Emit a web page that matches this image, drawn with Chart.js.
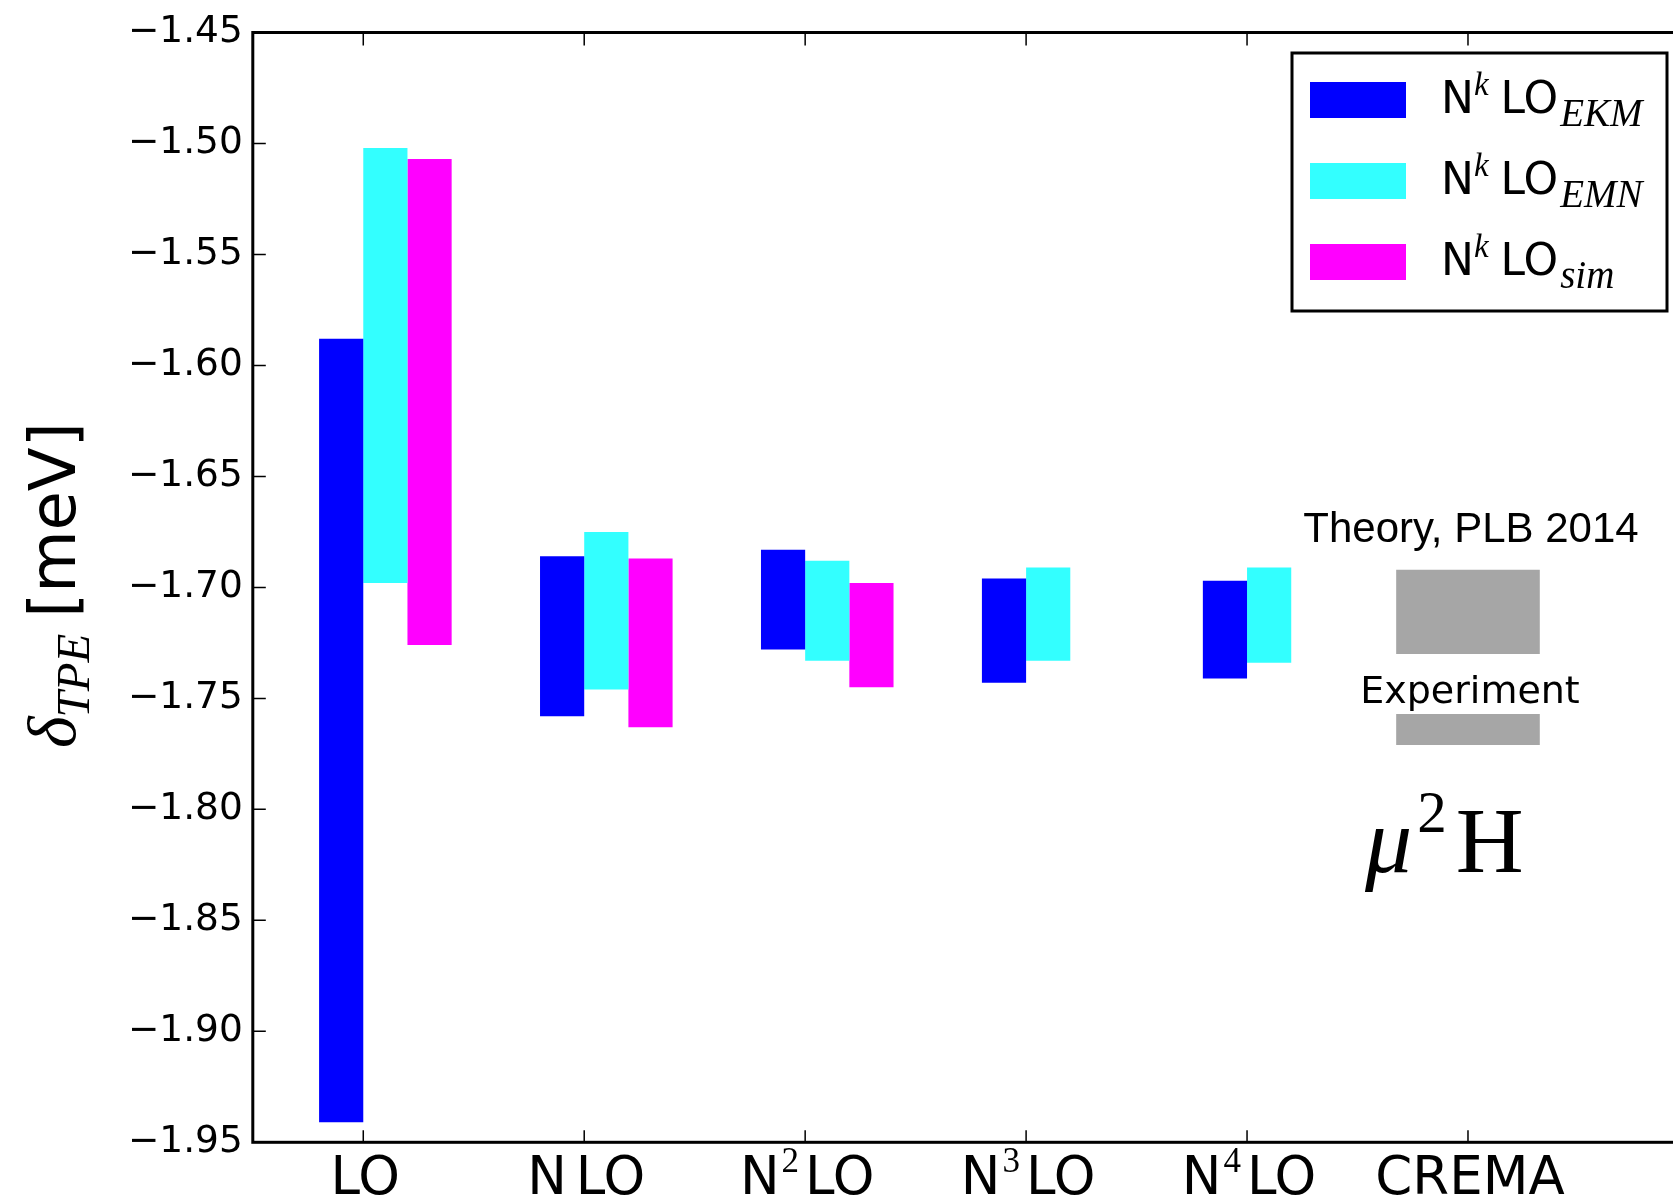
<!DOCTYPE html>
<html>
<head>
<meta charset="utf-8">
<title>Two-photon exchange in muonic deuterium</title>
<script src="https://cdn.jsdelivr.net/npm/chart.js@4.4.1/dist/chart.umd.min.js"></script>
<style>
  html, body { margin: 0; padding: 0; overflow: hidden; background: #ffffff; }
  #wrap { width: 1800px; height: 1201px; position: relative; }
</style>
</head>
<body>
<div id="wrap"><canvas id="chart"></canvas></div>
<script>
// Chiral orders (last slot is empty, it only extends the axis to the right)
const categories = ['LO', 'N LO', 'N^2LO', 'N^3LO', 'N^4LO', 'CREMA', ''];

// Uncertainty bands of delta_TPE in meV: upper and lower edge per order
const ekmHigh = [-1.588, -1.686, -1.683, -1.696, -1.697, null, null];
const ekmLow  = [-1.941, -1.758, -1.728, -1.743, -1.741, null, null];
const emnHigh = [-1.502, -1.675, -1.688, -1.691, -1.691, null, null];
const emnLow  = [-1.698, -1.746, -1.733, -1.733, -1.734, null, null];
const simHigh = [-1.507, -1.687, -1.698, null, null, null, null];
const simLow  = [-1.726, -1.763, -1.745, null, null, null, null];

// CREMA column: theory band (PLB 2014) and experimental band
const theoryBand = [-1.730, -1.692];
const experimentBand = [-1.771, -1.757];
const cremaIndex = 5;

// Legend subscripts and value axis ticks
const seriesNames = ['EKM', 'EMN', 'sim'];
const yTickValues = [-1.95, -1.90, -1.85, -1.80, -1.75, -1.70, -1.65, -1.60, -1.55, -1.50, -1.45];

const colors = ['rgb(0,0,255)', 'rgb(51,255,255)', 'rgb(255,0,255)'];
const greyBand = 'rgb(166,166,166)';

const SANS = '"DejaVu Sans", sans-serif';
const SERIF = '"Liberation Serif", "DejaVu Serif", serif';

function band(high, low) {
  return categories.map((_, i) => (high[i] == null ? null : [low[i], high[i]]));
}
function single(range) {
  return categories.map((_, i) => (i === cremaIndex ? range : null));
}

// Draw a sequence of text pieces with their own fonts and offsets
function runWidth(ctx, parts) {
  let w = 0;
  for (const p of parts) {
    ctx.font = p.font;
    w += (p.before || 0) + ctx.measureText(p.text).width;
  }
  return w;
}
function drawRun(ctx, parts, x, y) {
  let cx = x;
  for (const p of parts) {
    cx += p.before || 0;
    ctx.font = p.font;
    ctx.fillText(p.text, cx, y + (p.dy || 0));
    cx += ctx.measureText(p.text).width;
  }
  return cx - x;
}

// Category label "N^2LO" -> N, raised serif 2, LO
function labelParts(label) {
  const main = '53px ' + SANS;
  if (label.includes('^')) {
    const [base, rest] = label.split('^');
    return [
      { text: base, font: main },
      { text: rest[0], font: '35px ' + SERIF, dy: -22, before: 2 },
      { text: rest.slice(1), font: main, before: 6 }
    ];
  }
  if (label.includes(' ')) {
    const [a, b] = label.split(' ');
    return [{ text: a, font: main }, { text: b, font: main, before: 9 }];
  }
  return [{ text: label, font: main }];
}

const framePlugin = {
  id: 'frame',
  afterDraw(chart) {
    const { ctx, chartArea: ca } = chart;
    const xs = chart.scales.x, ys = chart.scales.y;
    ctx.save();
    ctx.strokeStyle = '#000';
    ctx.lineWidth = 1.5;
    ctx.beginPath();
    for (const v of yTickValues) {
      const y = ys.getPixelForValue(v);
      ctx.moveTo(ca.left, y); ctx.lineTo(ca.left + 13, y);
      ctx.moveTo(ca.right, y); ctx.lineTo(ca.right - 13, y);
    }
    categories.forEach((_, i) => {
      const x = xs.getPixelForValue(i);
      ctx.moveTo(x, ca.bottom); ctx.lineTo(x, ca.bottom - 12);
      ctx.moveTo(x, ca.top); ctx.lineTo(x, ca.top + 13);
    });
    ctx.stroke();
    ctx.lineWidth = 3;
    ctx.strokeRect(ca.left, ca.top, ca.right - ca.left, ca.bottom - ca.top);

    // category labels under the axis
    ctx.fillStyle = '#000';
    ctx.textAlign = 'left';
    ctx.textBaseline = 'alphabetic';
    categories.forEach((label, i) => {
      if (!label) return;
      const parts = labelParts(label);
      const x = xs.getPixelForValue(i);
      const w = runWidth(ctx, parts);
      drawRun(ctx, parts, x - w / 2 + 2, ca.bottom + 52);
    });

    // value axis title, rotated
    ctx.save();
    ctx.translate(75, 748);
    ctx.rotate(-Math.PI / 2);
    drawRun(ctx, [
      { text: '\u03B4', font: 'italic 68px ' + SERIF },
      { text: 'TPE', font: 'italic 47px ' + SERIF, dy: 14, before: -1 },
      { text: '[meV]', font: '64px ' + SANS, before: 16 }
    ], 0, 0);
    ctx.restore();

    // legend
    const lx = 1292, ly = 53, lw = 375, lh = 258;
    ctx.fillStyle = '#fff';
    ctx.fillRect(lx, ly, lw, lh);
    ctx.lineWidth = 3;
    ctx.strokeStyle = '#000';
    ctx.strokeRect(lx, ly, lw, lh);
    seriesNames.forEach((name, k) => {
      const rowY = 100 + 81 * k;
      ctx.fillStyle = colors[k];
      ctx.fillRect(1310, rowY - 18, 96, 36);
      ctx.fillStyle = '#000';
      drawRun(ctx, [
        { text: 'N', font: '44px ' + SANS },
        { text: 'k', font: 'italic 33px ' + SERIF, dy: -18, before: 0 },
        { text: 'LO', font: '44px ' + SANS, before: 12 },
        { text: name, font: 'italic 39px ' + SERIF, dy: 13, before: 2 }
      ], 1441, rowY + 13);
    });

    // CREMA annotations
    const cx = xs.getPixelForValue(cremaIndex);
    ctx.fillStyle = '#000';
    ctx.textAlign = 'center';
    ctx.font = '42px "Liberation Sans", Arial, sans-serif';
    ctx.fillText('Theory, PLB 2014', cx + 3, ys.getPixelForValue(theoryBand[1]) - 28);
    ctx.font = '38px ' + SANS;
    ctx.fillText('Experiment', cx + 2, ys.getPixelForValue(experimentBand[1]) - 11);
    ctx.textAlign = 'left';
    drawRun(ctx, [
      { text: '\u03BC', font: 'italic 94px ' + SERIF },
      { text: '2', font: '59px ' + SERIF, dy: -40, before: 5 },
      { text: 'H', font: '94px ' + SERIF, before: 9 }
    ], cx - 103, ys.getPixelForValue(experimentBand[0]) + 127);
    ctx.restore();
  }
};

const barBase = { borderWidth: 0, categoryPercentage: 0.8, barPercentage: 1.0 };

new Chart(document.getElementById('chart'), {
  type: 'bar',
  data: {
    labels: categories,
    datasets: [
      { ...barBase, label: '', data: categories.map(() => null), backgroundColor: 'rgba(0,0,0,0)' },
      { ...barBase, label: 'EKM', data: band(ekmHigh, ekmLow), backgroundColor: colors[0] },
      { ...barBase, label: 'EMN', data: band(emnHigh, emnLow), backgroundColor: colors[1] },
      { ...barBase, label: 'sim', data: band(simHigh, simLow), backgroundColor: colors[2] },
      { label: 'Theory', data: single(theoryBand), backgroundColor: greyBand, borderWidth: 0,
        grouped: false, categoryPercentage: 0.65, barPercentage: 1.0 },
      { label: 'Experiment', data: single(experimentBand), backgroundColor: greyBand, borderWidth: 0,
        grouped: false, categoryPercentage: 0.65, barPercentage: 1.0 }
    ]
  },
  options: {
    responsive: true,
    maintainAspectRatio: false,
    animation: false,
    devicePixelRatio: 1,
    layout: { padding: { top: 29.7, left: 0, right: 0.6, bottom: 0 } },
    plugins: { legend: { display: false }, tooltip: { enabled: false } },
    scales: {
      x: {
        type: 'category',
        grid: { display: false, drawTicks: false },
        border: { display: false },
        ticks: { display: false },
        afterFit(scale) { scale.height = 58.7; }
      },
      y: {
        type: 'linear',
        min: -1.95,
        max: -1.45,
        grid: { display: false, drawTicks: false },
        border: { display: false },
        afterBuildTicks(scale) { scale.ticks = yTickValues.map(v => ({ value: v })); },
        afterFit(scale) { scale.width = 252.8; },
        ticks: {
          padding: 10,
          color: '#000',
          font: { family: 'DejaVu Sans', size: 37.5 },
          callback: v => '\u2212' + Math.abs(v).toFixed(2)
        }
      }
    }
  },
  plugins: [framePlugin]
});
</script>
</body>
</html>
